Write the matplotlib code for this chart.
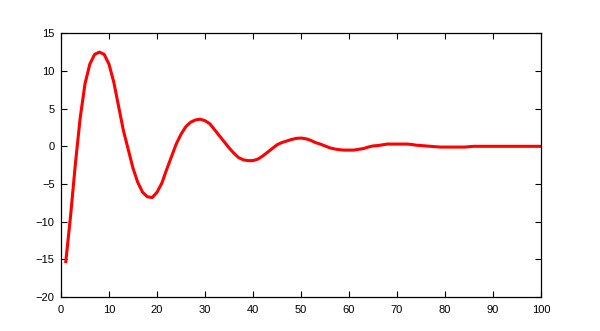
import matplotlib
matplotlib.use("Agg")
import matplotlib.pyplot as plt

x_values = list(range(1, 101))
y_values = [
    -15.3, -9.2, -2.3, 3.8, 8.3, 10.9, 12.2, 12.5, 12.2, 10.9,
    8.5, 5.3, 2.1, -0.4, -2.9, -4.8, -6.1, -6.7, -6.8, -6.1,
    -4.9, -3.1, -1.4, 0.3, 1.6, 2.6, 3.2, 3.5, 3.6, 3.4,
    3.0, 2.2, 1.4, 0.6, -0.2, -0.9, -1.5, -1.8, -1.9, -1.9,
    -1.7, -1.3, -0.8, -0.3, 0.2, 0.5, 0.7, 0.9, 1.05, 1.1,
    1.0, 0.8, 0.5, 0.3, 0.05, -0.2, -0.35, -0.45, -0.5, -0.5,
    -0.5, -0.4, -0.3, -0.1, 0.05, 0.1, 0.2, 0.3, 0.3, 0.3,
    0.3, 0.3, 0.25, 0.15, 0.1, 0.05, 0.0, -0.05, -0.1, -0.1,
    -0.1, -0.1, -0.1, -0.1, -0.05, 0.0, 0.0, 0.0, 0.0, 0.0,
    0.0, 0.0, 0.0, 0.0, 0.0, 0.0, 0.0, 0.0, 0.0, 0.0,
]
x_ticks = [0, 10, 20, 30, 40, 50, 60, 70, 80, 90, 100]
y_ticks = [-20, -15, -10, -5, 0, 5, 10, 15]

plt.rcParams['font.family'] = ['Liberation Sans', 'DejaVu Sans']

fig = plt.figure(figsize=(6.0, 3.31), dpi=100)
ax = fig.add_axes([61/600, 1 - 297/331, 480/600, (297 - 33.3)/331])
ax.plot(x_values, y_values, color='#ff0000', linewidth=2.2,
        solid_joinstyle='round')
ax.set_xlim(0, 100)
ax.set_ylim(-20, 15)
ax.set_xticks(x_ticks)
ax.set_yticks(y_ticks)
ax.tick_params(axis='both', direction='in', length=4, width=0.8,
               top=True, right=True, labelsize=8, colors='black')
ax.tick_params(axis='x', pad=5.5)
ax.tick_params(axis='y', pad=4.5)
for s in ax.spines.values():
    s.set_linewidth(0.9)
    s.set_color('black')

fig.savefig('out.png', dpi=100)
